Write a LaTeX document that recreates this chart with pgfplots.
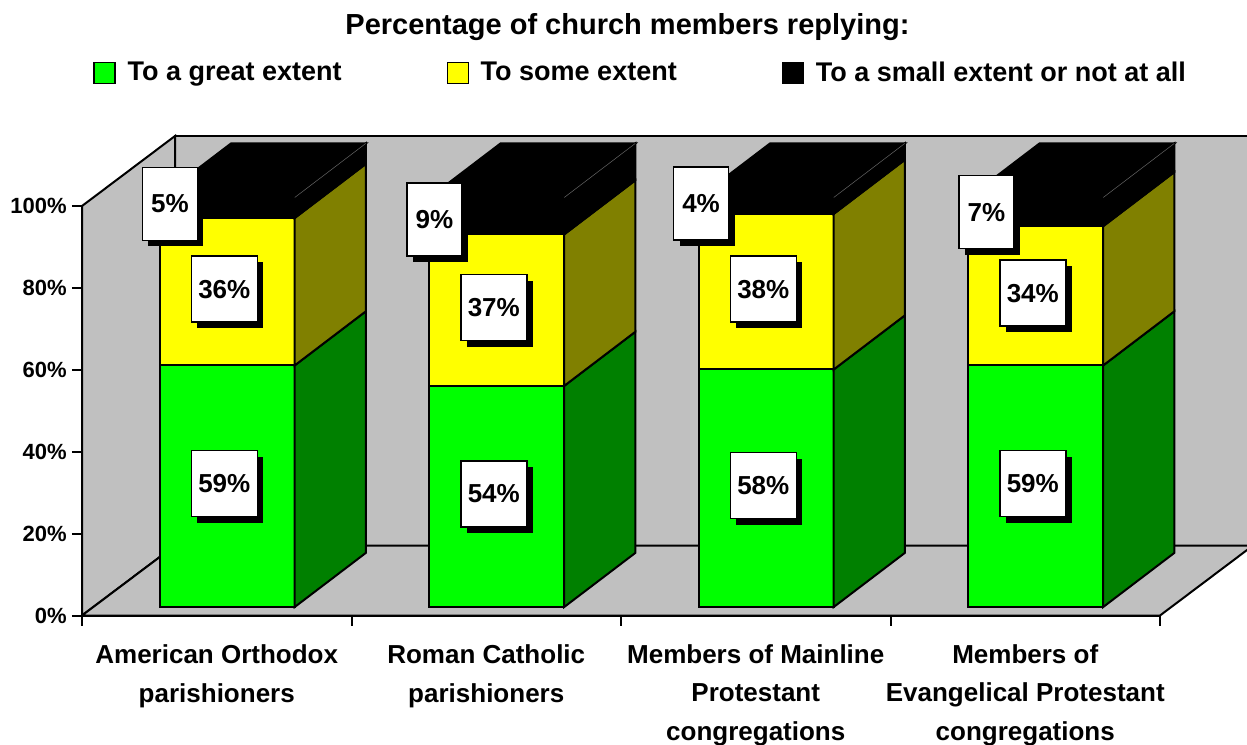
\documentclass[border=0pt]{standalone}
\usepackage{fontspec}
\setmainfont{Liberation Sans}
\usepackage{pgfplots}
\pgfplotsset{compat=1.18}
\usetikzlibrary{shadows}
\definecolor{cg}{HTML}{00FF00}
\definecolor{cgs}{HTML}{008000}
\definecolor{cy}{HTML}{FFFF00}
\definecolor{cys}{HTML}{808000}
\definecolor{wall}{HTML}{C0C0C0}
\newcommand\lab{\fontsize{13.5pt}{16pt}\selectfont\bfseries}
\newcommand\tlab{\fontsize{14.5pt}{17pt}\selectfont\bfseries}
\newcommand\xlab{\fontsize{13pt}{19.25pt}\selectfont\bfseries}
\newcommand\vlab{\fontsize{13pt}{15pt}\selectfont\bfseries}
% bar geometry (data units): width 0.5, base 2.08, depth (0.2635, 13.19)
\newcommand\barseg[5]{%
  \pgfmathsetmacro\xa{#1}%
  \pgfmathsetmacro\xb{#1+0.5}%
  \pgfmathsetmacro\xc{#1+0.5+0.2635}%
  \pgfmathsetmacro\ya{2.08+#2}%
  \pgfmathsetmacro\yb{2.08+#3}%
  \pgfmathsetmacro\yc{2.08+#2+13.19}%
  \pgfmathsetmacro\yd{2.08+#3+13.19}%
  \addplot[fill=#4, draw=black, line width=1pt] coordinates {(\xa,\ya) (\xb,\ya) (\xb,\yb) (\xa,\yb)} --cycle;
  \addplot[fill=#5, draw=black, line width=1pt] coordinates {(\xb,\ya) (\xc,\yc) (\xc,\yd) (\xb,\yb)} --cycle;
}
\newcommand\bartop[2]{%
  \pgfmathsetmacro\xa{#1}%
  \pgfmathsetmacro\xb{#1+0.5}%
  \pgfmathsetmacro\xc{#1+0.5+0.2635}%
  \pgfmathsetmacro\xd{#1+0.2635}%
  \pgfmathsetmacro\ya{2.08+#2}%
  \pgfmathsetmacro\yd{2.08+#2+13.19}%
  \addplot[fill=black, draw=black, line width=1pt] coordinates {(\xa,\ya) (\xb,\ya) (\xc,\yd) (\xd,\yd)} --cycle;
  \addplot[draw=black!60, line width=0.25pt] coordinates {(\xb,\ya) (\xc,\yd)};
}
\newcommand\stackbar[4]{%
  \pgfmathsetmacro\sa{#2}%
  \pgfmathsetmacro\sb{#2+#3}%
  \pgfmathsetmacro\sc{#2+#3+#4}%
  \barseg{#1}{0}{\sa}{cg}{cgs}
  \barseg{#1}{\sa}{\sb}{cy}{cys}
  \barseg{#1}{\sb}{\sc}{black}{black}
  \bartop{#1}{\sc}
}
\tikzset{
  vbox/.style={fill=white, draw=black, line width=0.75pt, inner sep=0pt, font=\vlab,
    drop shadow={shadow xshift=3pt, shadow yshift=-3pt, fill=black, opacity=1}},
  big/.style={vbox, minimum width=33pt, minimum height=33pt},
  small/.style={vbox, minimum width=27.5pt, minimum height=36.5pt},
  cat/.style={anchor=base, align=center, font=\xlab},
}
\begin{document}
\begin{tikzpicture}
\useasboundingbox (0,0) rectangle (623.5pt,372pt);
\begin{axis}[
  at={(41pt,64.25pt)}, anchor=south west,
  width=539pt, height=204.75pt, scale only axis,
  xmin=0, xmax=4, ymin=0, ymax=100,
  clip=false,
  axis x line*=bottom, axis y line*=left,
  axis line style={-, line width=1pt},
  xtick={0,1,2,3,4}, xticklabels={},
  ytick={0,20,40,60,80,100},
  yticklabel={\pgfmathprintnumber{\tick}\%},
  /pgf/number format/assume math mode=true,
  tick align=outside, major tick length=5pt,
  tick style={line width=1pt, black},
  yticklabel style={font=\fontsize{11pt}{13pt}\selectfont\bfseries, inner sep=0pt, xshift=-2.5pt},
  title={Percentage of church members replying:},
  every axis title shift/.style={yshift=0pt},
  title style={at={(0.506,1.3907)}, anchor=base, inner sep=0pt, font=\tlab},
  legend style={at={(0.0102,1.3248)}, anchor=west, draw=none, fill=none,
    legend columns=3, font=\lab, inner sep=0pt,
    /tikz/every even column/.append style={column sep=50.5pt}},
  legend image code/.code={\draw[#1, line width=0.75pt] (0pt,-5.25pt) rectangle (10.5pt,5.25pt); \path (14.5pt,0pt);},
]
\addlegendimage{fill=cg, draw=black}
\addlegendentry{To a great extent}
\addlegendimage{fill=cy, draw=black}
\addlegendentry{To some extent}
\addlegendimage{fill=black, draw=black}
\addlegendentry{To a small extent or not at all}
% walls and floor
\addplot[fill=wall, draw=black, line width=1pt] coordinates {(0.3451,17.09) (4.3451,17.09) (4.3451,117.09) (0.3451,117.09)} --cycle;
\addplot[fill=wall, draw=black, line width=1pt] coordinates {(0,0) (0.3451,17.09) (0.3451,117.09) (0,100)} --cycle;
\addplot[fill=wall, draw=black, line width=1pt] coordinates {(0,0) (4,0) (4.3451,17.09) (0.3451,17.09)} --cycle;
% bars: great, some, small/not at all
\stackbar{0.2894}{59}{36}{5}
\stackbar{1.2894}{54}{37}{9}
\stackbar{2.2894}{58}{38}{4}
\stackbar{3.2894}{59}{34}{7}
% value labels
\node[big] at (axis cs:0.528,32.2) {59\%};
\node[big] at (axis cs:0.528,79.7) {36\%};
\node[small] at (axis cs:0.3265,100.5) {5\%};
\node[big] at (axis cs:1.528,29.7) {54\%};
\node[big] at (axis cs:1.528,75.2) {37\%};
\node[small] at (axis cs:1.308,96.7) {9\%};
\node[big] at (axis cs:2.528,31.7) {58\%};
\node[big] at (axis cs:2.528,79.7) {38\%};
\node[small] at (axis cs:2.297,100.6) {4\%};
\node[big] at (axis cs:3.528,32.2) {59\%};
\node[big] at (axis cs:3.528,78.7) {34\%};
\node[small] at (axis cs:3.356,98.5) {7\%};
% category labels
\node[cat, yshift=-43.25pt] at (axis cs:0.5,0) {American Orthodox\\parishioners};
\node[cat, yshift=-43.25pt] at (axis cs:1.5,0) {Roman Catholic\\parishioners};
\node[cat, yshift=-62.25pt] at (axis cs:2.5,0) {Members of Mainline\\Protestant\\congregations};
\node[cat, yshift=-62.25pt] at (axis cs:3.5,0) {Members of\\Evangelical Protestant\\congregations};
\end{axis}
\end{tikzpicture}
\end{document}
